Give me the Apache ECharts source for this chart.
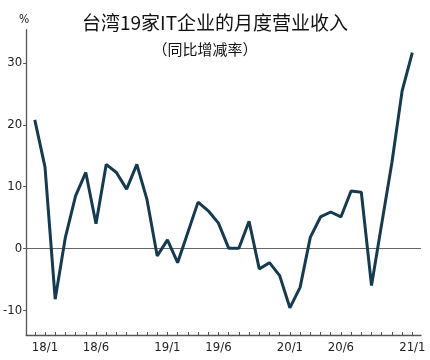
<!DOCTYPE html>
<html><head><meta charset="utf-8">
<script src="https://cdn.jsdelivr.net/npm/echarts@6/dist/echarts.min.js"></script>
<style>html,body{margin:0;padding:0;background:#fff}#c{width:430px;height:360px}</style>
</head><body><div id="c"></div>
<script>
const months = ['17/12','18/1','18/2','18/3','18/4','18/5','18/6','18/7','18/8','18/9','18/10','18/11','18/12',
 '19/1','19/2','19/3','19/4','19/5','19/6','19/7','19/8','19/9','19/10','19/11','19/12',
 '20/1','20/2','20/3','20/4','20/5','20/6','20/7','20/8','20/9','20/10','20/11','20/12','21/1'];
const values = [20.8,13.2,-8.2,1.8,8.5,12.3,4.0,13.6,12.3,9.6,13.6,7.9,-1.2,
 1.4,-2.3,2.6,7.5,6.1,4.1,0.05,0.05,4.4,-3.3,-2.3,-4.4,
 -9.6,-6.3,1.8,5.1,5.9,5.1,9.3,9.1,-6.0,4.0,13.9,25.5,31.7];
const shownLabels = ['18/1','18/6','19/1','19/6','20/1','20/6','21/1'];
const yTicks = [-10,0,10,20,30];
const title = '台湾19家IT企业的月度营业收入';
const subtitle = '（同比增减率）';

const labelIdx = shownLabels.map(l => months.indexOf(l));
const chart = echarts.init(document.getElementById('c'), null, {renderer:'canvas'});
const axisFont = '"Liberation Sans Narrow","DejaVu Sans Condensed","Noto Sans",sans-serif';
chart.setOption({
  animation:false,
  backgroundColor:'#fff',
  title:[
    {text:title, left:210, top:8, textAlign:'center',
     textStyle:{fontFamily:'"Noto Sans CJK SC",sans-serif', fontSize:19, fontWeight:'normal', color:'#111'}},
    {text:subtitle, left:200, top:37, textAlign:'center',
     textStyle:{fontFamily:'"Noto Sans CJK SC",sans-serif', fontSize:15, fontWeight:'normal', color:'#111'}},
    {text:'%', left:14, top:9, textStyle:{fontFamily:axisFont, fontSize:12, fontWeight:'normal', color:'#222'}}
  ],
  grid:{left:26, right:9, top:29.7, bottom:25, containLabel:false},
  xAxis:{type:'value', min:-0.85, max:37.85,
    axisLine:{show:true, onZero:false, lineStyle:{color:'#555', width:1.3}},
    axisTick:{show:true, inside:true, length:3, customValues:months.map((m,i)=>i), lineStyle:{color:'#555'}},
    axisLabel:{customValues:labelIdx, formatter:v=>months[Math.round(v)], color:'#222',
      fontFamily:axisFont, fontSize:13, margin:6},
    splitLine:{show:false}},
  yAxis:{type:'value', min:-14, max:35.4,
    axisLine:{show:true, onZero:false, lineStyle:{color:'#555', width:1.3}},
    axisTick:{show:true, length:3, customValues:yTicks, lineStyle:{color:'#555'}},
    axisLabel:{customValues:yTicks, formatter:v=>yTicks.includes(v)?String(v):'',
      color:'#222', fontFamily:axisFont, fontSize:13, margin:4},
    splitLine:{show:false}},
  series:[{type:'line', data:values.map((v,i)=>[i,v]), showSymbol:false, symbol:'none',
    lineStyle:{color:'#163a4f', width:3}, z:3,
    markLine:{silent:true, symbol:'none', label:{show:false},
      lineStyle:{color:'#666', width:1.2, type:'solid'}, data:[{yAxis:0}], z:1}}]
});
</script></body></html>
